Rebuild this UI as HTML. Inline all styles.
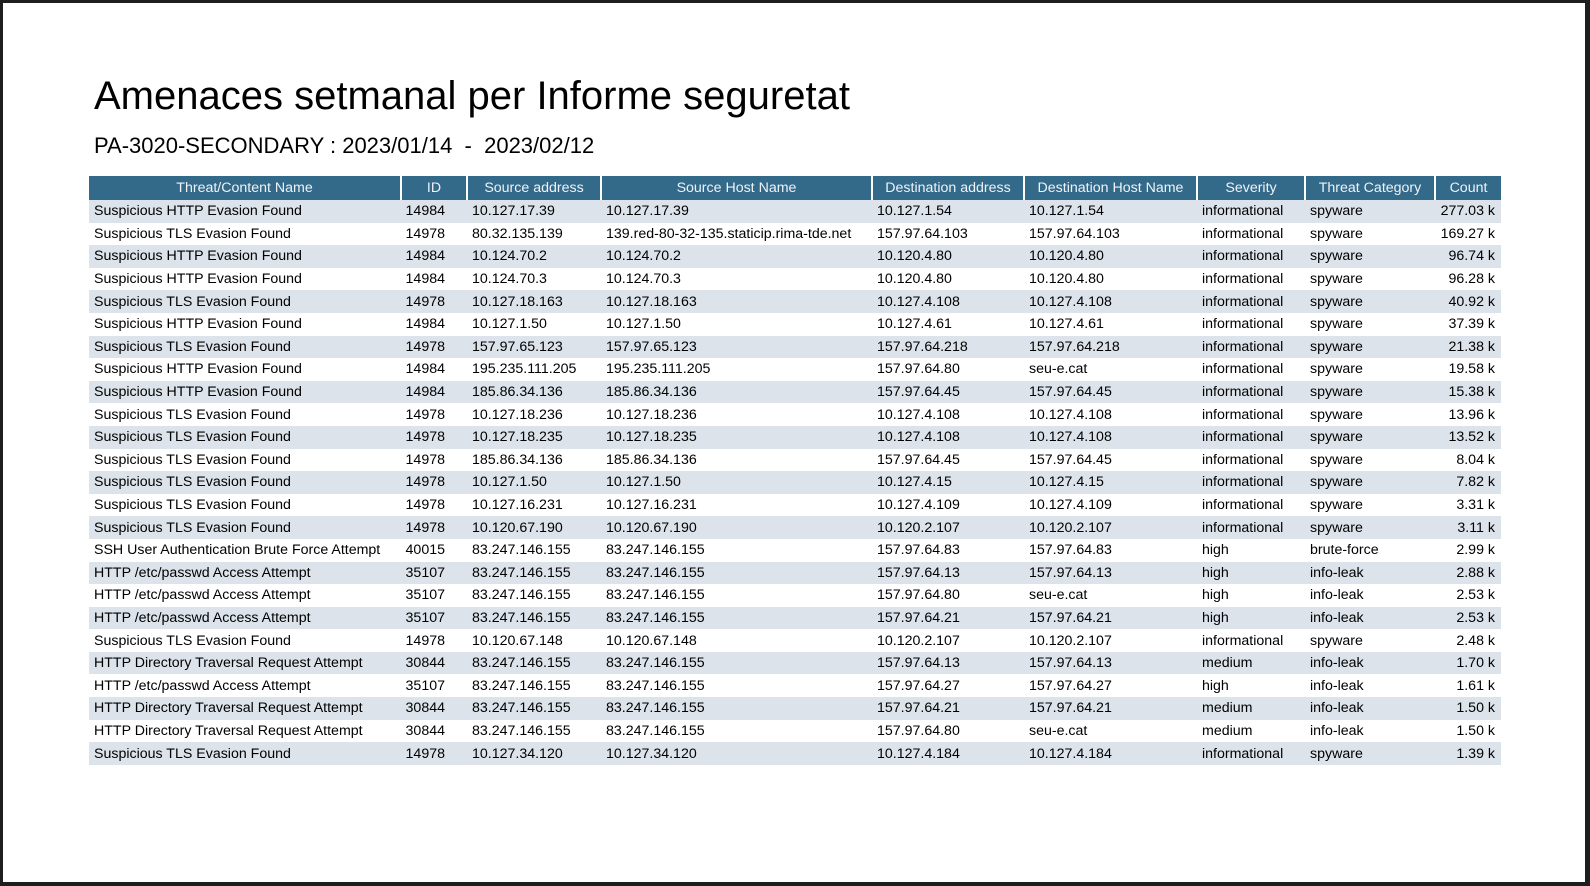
<!DOCTYPE html>
<html><head><meta charset="utf-8"><style>
html,body{margin:0;padding:0}
body{width:1590px;height:886px;background:#1e1e1e;position:relative;overflow:hidden;font-family:"Liberation Sans",sans-serif}
#page{position:absolute;left:3px;top:3px;width:1582px;height:879px;background:#fff}
h1{position:absolute;left:91px;top:71px;margin:0;font-weight:normal;font-size:40px;color:#000;white-space:nowrap}
h2{position:absolute;left:91px;top:130px;margin:0;font-weight:normal;font-size:22px;color:#000;white-space:pre}
table{position:absolute;left:86px;top:173px;border-collapse:collapse;font-size:14.2px;table-layout:fixed}
th{background:#336a8a;color:#eef3f7;font-weight:normal;height:21px;padding:0;border-left:2px solid #fff;text-align:center;line-height:24px;vertical-align:bottom}
th:first-child{border-left:none}
td{height:22.6px;padding:0 0 0 5px;color:#000;white-space:nowrap;overflow:hidden;line-height:22px}
tr:nth-child(odd) td{background:#dce3ea}
td.r{text-align:right;padding:0 6px 0 0}
td.id{text-align:right;padding:0 22px 0 0}
</style></head><body>
<div id="page">
<h1>Amenaces setmanal per Informe seguretat</h1>
<h2>PA-3020-SECONDARY : 2023/01/14  -  2023/02/12</h2>
<table>
<colgroup><col style="width:312px"><col style="width:66px"><col style="width:134px"><col style="width:271px"><col style="width:152px"><col style="width:173px"><col style="width:108px"><col style="width:130px"><col style="width:66px"></colgroup>
<thead><tr>
<th>Threat/Content Name</th><th>ID</th><th>Source address</th><th>Source Host Name</th><th>Destination address</th><th>Destination Host Name</th><th>Severity</th><th>Threat Category</th><th>Count</th>
</tr></thead>
<tbody id="tb"></tbody>
</table>
</div>
<script>
const rows=[
["Suspicious HTTP Evasion Found","14984","10.127.17.39","10.127.17.39","10.127.1.54","10.127.1.54","informational","spyware","277.03 k"],
["Suspicious TLS Evasion Found","14978","80.32.135.139","139.red-80-32-135.staticip.rima-tde.net","157.97.64.103","157.97.64.103","informational","spyware","169.27 k"],
["Suspicious HTTP Evasion Found","14984","10.124.70.2","10.124.70.2","10.120.4.80","10.120.4.80","informational","spyware","96.74 k"],
["Suspicious HTTP Evasion Found","14984","10.124.70.3","10.124.70.3","10.120.4.80","10.120.4.80","informational","spyware","96.28 k"],
["Suspicious TLS Evasion Found","14978","10.127.18.163","10.127.18.163","10.127.4.108","10.127.4.108","informational","spyware","40.92 k"],
["Suspicious HTTP Evasion Found","14984","10.127.1.50","10.127.1.50","10.127.4.61","10.127.4.61","informational","spyware","37.39 k"],
["Suspicious TLS Evasion Found","14978","157.97.65.123","157.97.65.123","157.97.64.218","157.97.64.218","informational","spyware","21.38 k"],
["Suspicious HTTP Evasion Found","14984","195.235.111.205","195.235.111.205","157.97.64.80","seu-e.cat","informational","spyware","19.58 k"],
["Suspicious HTTP Evasion Found","14984","185.86.34.136","185.86.34.136","157.97.64.45","157.97.64.45","informational","spyware","15.38 k"],
["Suspicious TLS Evasion Found","14978","10.127.18.236","10.127.18.236","10.127.4.108","10.127.4.108","informational","spyware","13.96 k"],
["Suspicious TLS Evasion Found","14978","10.127.18.235","10.127.18.235","10.127.4.108","10.127.4.108","informational","spyware","13.52 k"],
["Suspicious TLS Evasion Found","14978","185.86.34.136","185.86.34.136","157.97.64.45","157.97.64.45","informational","spyware","8.04 k"],
["Suspicious TLS Evasion Found","14978","10.127.1.50","10.127.1.50","10.127.4.15","10.127.4.15","informational","spyware","7.82 k"],
["Suspicious TLS Evasion Found","14978","10.127.16.231","10.127.16.231","10.127.4.109","10.127.4.109","informational","spyware","3.31 k"],
["Suspicious TLS Evasion Found","14978","10.120.67.190","10.120.67.190","10.120.2.107","10.120.2.107","informational","spyware","3.11 k"],
["SSH User Authentication Brute Force Attempt","40015","83.247.146.155","83.247.146.155","157.97.64.83","157.97.64.83","high","brute-force","2.99 k"],
["HTTP /etc/passwd Access Attempt","35107","83.247.146.155","83.247.146.155","157.97.64.13","157.97.64.13","high","info-leak","2.88 k"],
["HTTP /etc/passwd Access Attempt","35107","83.247.146.155","83.247.146.155","157.97.64.80","seu-e.cat","high","info-leak","2.53 k"],
["HTTP /etc/passwd Access Attempt","35107","83.247.146.155","83.247.146.155","157.97.64.21","157.97.64.21","high","info-leak","2.53 k"],
["Suspicious TLS Evasion Found","14978","10.120.67.148","10.120.67.148","10.120.2.107","10.120.2.107","informational","spyware","2.48 k"],
["HTTP Directory Traversal Request Attempt","30844","83.247.146.155","83.247.146.155","157.97.64.13","157.97.64.13","medium","info-leak","1.70 k"],
["HTTP /etc/passwd Access Attempt","35107","83.247.146.155","83.247.146.155","157.97.64.27","157.97.64.27","high","info-leak","1.61 k"],
["HTTP Directory Traversal Request Attempt","30844","83.247.146.155","83.247.146.155","157.97.64.21","157.97.64.21","medium","info-leak","1.50 k"],
["HTTP Directory Traversal Request Attempt","30844","83.247.146.155","83.247.146.155","157.97.64.80","seu-e.cat","medium","info-leak","1.50 k"],
["Suspicious TLS Evasion Found","14978","10.127.34.120","10.127.34.120","10.127.4.184","10.127.4.184","informational","spyware","1.39 k"]
];
const names=["threat-name-cell","id-cell","source-address-cell","source-host-cell","destination-address-cell","destination-host-cell","severity-cell","threat-category-cell","count-cell"];
const tb=document.getElementById('tb');
rows.forEach(r=>{
  const tr=document.createElement('tr');
  
  
  r.forEach((v,i)=>{
    const td=document.createElement('td');
    
    
    td.textContent=v;
    if(i===1)td.className='id';
    if(i===8)td.className='r';
    tr.appendChild(td);
  });
  tb.appendChild(tr);
});
</script>
</body></html>
